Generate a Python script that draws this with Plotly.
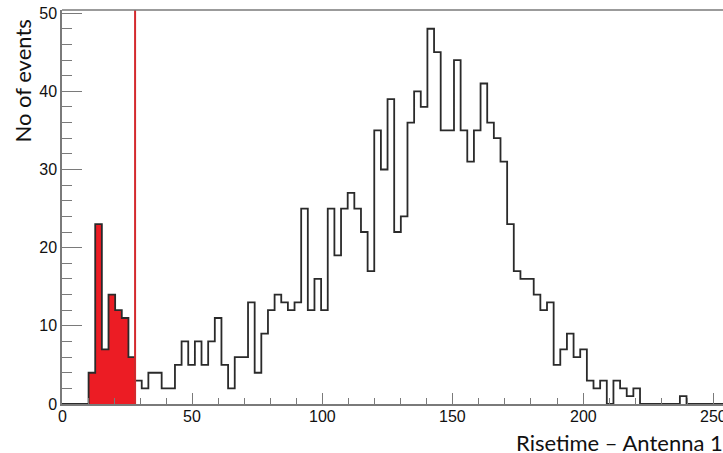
import numpy as np
import plotly.graph_objects as go

# Histogram: 100 bins spanning 0 .. 255
n_bins = 100
x_min, x_max = 0.0, 255.0
counts = [
    0, 0, 0, 0, 4, 23, 7, 14, 12, 11,
    6, 3, 2, 4, 4, 2, 2, 5, 8, 5,
    8, 5, 8, 11, 5, 2, 6, 6, 13, 4,
    9, 12, 14, 13, 12, 13, 25, 12, 16, 12,
    25, 19, 25, 27, 25, 22, 17, 35, 30, 39,
    22, 24, 36, 40, 38, 48, 45, 35, 35, 44,
    35, 31, 35, 41, 36, 34, 31, 23, 17, 16,
    16, 14, 12, 13, 5, 7, 9, 6, 7, 3,
    2, 3, 0, 3, 2, 1, 2, 0, 0, 0,
    0, 0, 0, 1, 0, 0, 0, 0, 0, 0,
]
cut_value = 28.05          # selection cut on risetime
n_cut_bins = 11            # bins below the cut, filled red

x_tick_vals = [0, 50, 100, 150, 200, 250]
x_title = "Risetime – Antenna 1"
y_title = "No of events"

edges = np.linspace(x_min, x_max, n_bins + 1)
step_y = counts + [counts[-1]]
y_top = 1.05 * max(counts)

fig = go.Figure()

# filled part below the cut
fig.add_trace(go.Scatter(
    x=edges[:n_cut_bins + 1], y=counts[:n_cut_bins] + [counts[n_cut_bins - 1]],
    mode="lines", line=dict(shape="hv", width=0, color="#EC1C24"),
    fill="tozeroy", fillcolor="#EC1C24", hoverinfo="skip", showlegend=False,
))

# histogram outline
fig.add_trace(go.Scatter(
    x=edges, y=step_y, mode="lines",
    line=dict(shape="hv", width=1.8, color="#2a2a2a"),
    showlegend=False, cliponaxis=True,
))

# cut line
fig.add_trace(go.Scatter(
    x=[cut_value, cut_value], y=[0, y_top], mode="lines",
    line=dict(width=2, color="#D42A2E"), showlegend=False,
))

axis_grey = "#7a7a7a"
tick_font = dict(family="Liberation Sans, Arial, sans-serif", size=16, color="#111")

fig.update_xaxes(
    range=[0, 253.7], showgrid=False, zeroline=False,
    showline=True, linecolor=axis_grey, linewidth=1.5,
    ticks="inside", tickcolor=axis_grey, ticklen=11, tickwidth=1,
    tickmode="array", tickvals=x_tick_vals, showticklabels=False,
    minor=dict(ticks="inside", ticklen=6, dtick=10, tick0=0, tickcolor=axis_grey, tickwidth=1),
)
fig.update_yaxes(
    range=[0, y_top], showgrid=False, zeroline=False,
    showline=True, linecolor=axis_grey, linewidth=1.5,
    ticks="inside", tickcolor=axis_grey, ticklen=20, tickwidth=1,
    tick0=0, dtick=10, tickfont=tick_font,
    minor=dict(ticks="inside", ticklen=10, dtick=2, tickcolor=axis_grey, tickwidth=1),
)

# x tick labels as text, so the last one runs off the right edge
for v in x_tick_vals:
    fig.add_annotation(text=str(v), x=v, xref="x", y=0, yref="paper",
                       xanchor="center", yanchor="top", yshift=-2,
                       showarrow=False, font=tick_font)

# top frame line
fig.add_shape(type="line", xref="paper", yref="paper", x0=0, x1=1, y0=1, y1=1,
              line=dict(color=axis_grey, width=1.5))

title_font = dict(family="Lato, Open Sans, sans-serif", size=22, color="#111")
fig.add_annotation(text=x_title, xref="paper", yref="paper", x=1, y=0,
                   xanchor="right", yanchor="top", yshift=-23, xshift=2,
                   showarrow=False, font=title_font)
fig.add_annotation(text=y_title, xref="paper", yref="paper", x=0, y=1,
                   xanchor="center", yanchor="top", xshift=-40, yshift=-8,
                   textangle=-90, showarrow=False, font=title_font)

fig.update_layout(
    width=723, height=453, autosize=False,
    margin=dict(l=62, r=0, t=10, b=49),
    paper_bgcolor="white", plot_bgcolor="white",
)

fig.write_html("out.html")
